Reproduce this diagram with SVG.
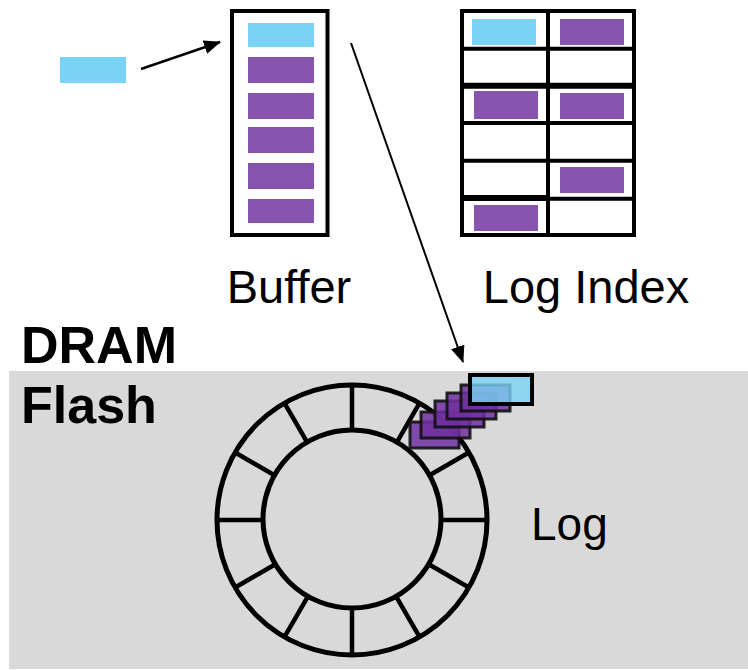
<svg xmlns="http://www.w3.org/2000/svg" width="748" height="670" viewBox="0 0 748 670">
<style>
.cy{fill:#7ad3f5}
.pu{fill:#8855ae}
.ln{stroke:#000;fill:none}
.t{font-family:"Liberation Sans",Arial,sans-serif;fill:#000}
.stk{fill:#7030a0;fill-opacity:0.85;stroke:#111;stroke-opacity:0.9;stroke-width:3}
</style>
<defs>
<marker id="ah" markerUnits="userSpaceOnUse" markerWidth="18" markerHeight="14" refX="16" refY="7" orient="auto">
<path d="M0,0 L17,7 L0,14 Z" fill="#000"/>
</marker>
</defs>
<rect width="748" height="670" fill="#fff"/>
<rect id="flash-area" x="9" y="371" width="739" height="298" fill="#d9d9d9"/>

<g id="incoming">
<rect class="cy" x="60" y="57" width="66" height="26"/>
</g>

<g id="buffer">
<rect class="ln" x="232" y="11" width="95.5" height="224" stroke-width="4"/>
<rect class="cy" x="248" y="23" width="66" height="24"/>
<rect class="pu" x="248" y="57" width="66" height="26"/>
<rect class="pu" x="248" y="93" width="66" height="26"/>
<rect class="pu" x="248" y="127" width="66" height="26"/>
<rect class="pu" x="248" y="163" width="66" height="26"/>
<rect class="pu" x="248" y="199" width="66" height="24"/>
<text class="t" x="289" y="303" font-size="47" text-anchor="middle">Buffer</text>
</g>

<g id="log-index">
<rect class="cy" x="472" y="19" width="64" height="26"/>
<rect class="pu" x="560" y="19" width="64" height="26"/>
<rect class="pu" x="474" y="91" width="64" height="28"/>
<rect class="pu" x="560" y="93" width="64" height="26"/>
<rect class="pu" x="560" y="167" width="64" height="26"/>
<rect class="pu" x="474" y="205" width="64" height="26"/>
<rect class="ln" x="462" y="11" width="172" height="224" stroke-width="4"/>
<line class="ln" x1="548" y1="11" x2="548" y2="235" stroke-width="4"/>
<line class="ln" x1="462" y1="48.7" x2="634" y2="48.7" stroke-width="4"/>
<line class="ln" x1="462" y1="85.7" x2="634" y2="85.7" stroke-width="6"/>
<line class="ln" x1="462" y1="123" x2="634" y2="123" stroke-width="4"/>
<line class="ln" x1="462" y1="160.7" x2="634" y2="160.7" stroke-width="4"/>
<line class="ln" x1="462" y1="198" x2="548" y2="198" stroke-width="6"/>
<line class="ln" x1="548" y1="198.7" x2="634" y2="198.7" stroke-width="4"/>
<text class="t" x="586" y="303" font-size="47" text-anchor="middle">Log Index</text>
</g>

<g id="labels">
<text class="t" x="21" y="363" font-size="52" font-weight="bold">DRAM</text>
<text class="t" x="21" y="423" font-size="52" font-weight="bold">Flash</text>
<text class="t" x="531" y="540" font-size="46">Log</text>
</g>

<g id="log-ring">
<circle class="ln" cx="352" cy="520" r="135" stroke-width="5"/>
<circle class="ln" cx="352" cy="519" r="89" stroke-width="5"/>
<g class="ln" stroke-width="4.5">
<line x1="352" y1="431" x2="352" y2="385"/>
<line x1="396.5" y1="442.9" x2="419.5" y2="403.1"/>
<line x1="429.1" y1="475.5" x2="468.9" y2="452.5"/>
<line x1="441" y1="520" x2="487" y2="520"/>
<line x1="429.1" y1="564.5" x2="468.9" y2="587.5"/>
<line x1="396.5" y1="597.1" x2="419.5" y2="636.9"/>
<line x1="352" y1="609" x2="352" y2="655"/>
<line x1="307.5" y1="597.1" x2="284.5" y2="636.9"/>
<line x1="274.9" y1="564.5" x2="235.1" y2="587.5"/>
<line x1="263" y1="520" x2="217" y2="520"/>
<line x1="274.9" y1="475.5" x2="235.1" y2="452.5"/>
<line x1="307.5" y1="442.9" x2="284.5" y2="403.1"/>
</g>
</g>

<g id="flushed-entries">
<rect class="stk" x="410" y="422" width="49" height="26"/>
<rect class="stk" x="421" y="412" width="49" height="26"/>
<rect class="stk" x="435" y="401" width="49" height="26"/>
<rect class="stk" x="447" y="393" width="49" height="26"/>
<rect class="stk" x="461" y="385" width="49" height="26"/>
<rect x="470" y="375" width="62" height="29" fill="#7ad3f5" fill-opacity="0.8" stroke="#000" stroke-width="4"/>
</g>

<g id="connectors">
<line class="ln" x1="141" y1="69" x2="220" y2="42" stroke-width="2.5" marker-end="url(#ah)"/>
<line class="ln" x1="351" y1="43" x2="463" y2="362" stroke-width="2" marker-end="url(#ah)"/>
</g>
</svg>
